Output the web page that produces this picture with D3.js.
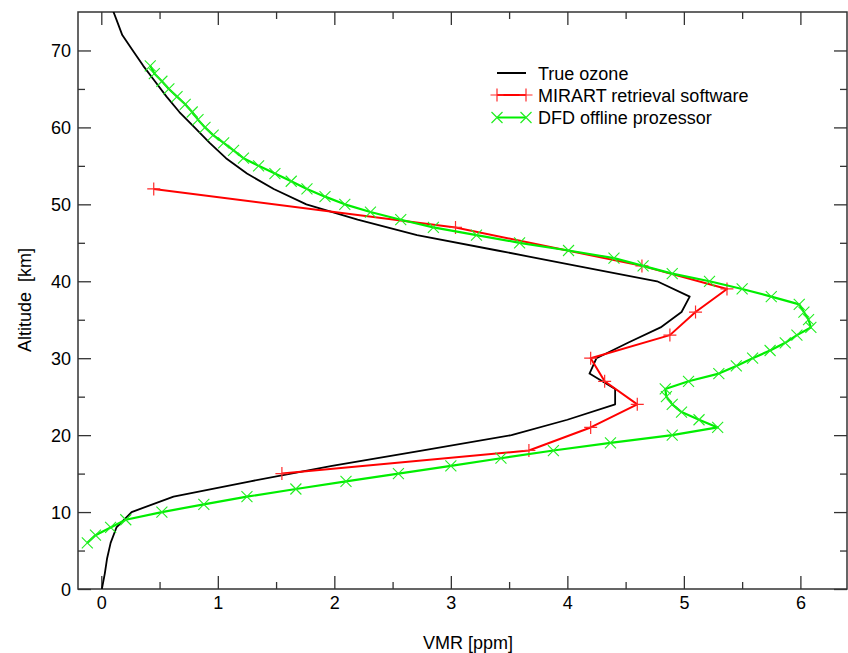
<!DOCTYPE html>
<html>
<head>
<meta charset="utf-8">
<script src="https://cdn.jsdelivr.net/npm/d3@7"></script>
<style>
  html, body { margin: 0; padding: 0; background: #fff; }
  svg { display: block; }
  text { font-family: "Liberation Sans", Arial, Helvetica, sans-serif; fill: #000; }
</style>
</head>
<body>
<svg id="chart" width="848" height="653"></svg>
<script>
// Ozone volume mixing ratio profiles (ppm) against altitude (km)

// True ozone profile
const trueAlt = [0, 2, 4, 6, 8, 10, 12, 14, 16, 18, 20, 22, 24, 26, 28, 30, 32, 34, 36, 38,
                 40, 42, 44, 46, 48, 50, 52, 54, 56, 58, 60, 62, 64, 66, 68, 70, 72, 74, 76];
const trueVmr = [0.005, 0.03, 0.05, 0.08, 0.13, 0.26, 0.62, 1.28, 1.98, 2.75, 3.52, 4.0, 4.41, 4.41, 4.19, 4.25, 4.52, 4.80, 4.98, 5.05,
                 4.77, 4.08, 3.40, 2.71, 2.20, 1.76, 1.48, 1.25, 1.07, 0.93, 0.80, 0.67, 0.56, 0.46, 0.36, 0.27, 0.18, 0.13, 0.08];

// MIRART retrieval software
const mirartAlt = [15, 18, 21, 24, 27, 30, 33, 36, 39, 42, 47, 52];
const mirartVmr = [1.55, 3.67, 4.20, 4.60, 4.32, 4.20, 4.88, 5.10, 5.37, 4.64, 3.04, 0.45];

// DFD offline prozessor
const dfdAlt = [6, 7, 8, 9, 10, 11, 12, 13, 14, 15, 16, 17, 18, 19, 20, 21, 22, 23, 24, 25, 26, 27,
                28, 29, 30, 31, 32, 33, 34, 35, 36, 37, 38, 39, 40, 41, 42, 43, 44, 45, 46, 47,
                48, 49, 50, 51, 52, 53, 54, 55, 56, 57, 58, 59, 60, 61, 62, 63, 64, 65, 66, 67, 68];
const dfdVmr = [-0.12, -0.05, 0.08, 0.21, 0.52, 0.88, 1.25, 1.67, 2.10, 2.55, 3.00, 3.43, 3.88, 4.37, 4.90, 5.29, 5.13, 4.98, 4.90, 4.85, 4.84, 5.04,
                5.30, 5.45, 5.59, 5.74, 5.87, 5.97, 6.09, 6.07, 6.03, 5.99, 5.75, 5.50, 5.22, 4.90, 4.65, 4.40, 4.01, 3.59, 3.22, 2.85,
                2.57, 2.31, 2.09, 1.92, 1.765, 1.63, 1.49, 1.35, 1.22, 1.135, 1.05, 0.96, 0.89, 0.83, 0.78, 0.72, 0.65, 0.58, 0.52, 0.455, 0.42];

// Axis ticks
const xMajorTicks = [0, 1, 2, 3, 4, 5, 6];
const xMinorTicks = [0.5, 1.5, 2.5, 3.5, 4.5, 5.5];
const yMajorTicks = [0, 10, 20, 30, 40, 50, 60, 70];
const yMinorTicks = [5, 15, 25, 35, 45, 55, 65];

const seriesNames = ["True ozone", "MIRART retrieval software", "DFD offline prozessor"];

const svg = d3.select("#chart");
const plotLeft = 78, plotRight = 847, plotTop = 12, plotBottom = 589;

const x = d3.scaleLinear().domain([-0.2, 6.4]).range([plotLeft, plotRight]);
const y = d3.scaleLinear().domain([0, 75]).range([plotBottom, plotTop]);

const frameColor = "#333";
const majorLen = 13, minorLen = 7;

svg.append("defs").append("clipPath").attr("id", "plot-clip")
  .append("rect").attr("x", plotLeft).attr("y", plotTop)
  .attr("width", plotRight - plotLeft).attr("height", plotBottom - plotTop);

// Axes on all four sides with ticks pointing inward
function styleAxis(g) {
  g.select(".domain").remove();
  g.selectAll(".tick line").attr("stroke", frameColor).attr("stroke-width", 1.3);
  g.selectAll(".tick text").attr("font-size", 18).attr("fill", "#000");
}

svg.append("g").attr("transform", `translate(0,${plotBottom})`)
  .call(d3.axisBottom(x).tickValues(xMajorTicks).tickFormat(d3.format("d")).tickSizeInner(-majorLen).tickSizeOuter(0))
  .call(styleAxis)
  .call(g => g.selectAll(".tick text").attr("dy", null).attr("y", 20));
svg.append("g").attr("transform", `translate(0,${plotBottom})`)
  .call(d3.axisBottom(x).tickValues(xMinorTicks).tickFormat("").tickSizeInner(-minorLen).tickSizeOuter(0))
  .call(styleAxis);
svg.append("g").attr("transform", `translate(0,${plotTop})`)
  .call(d3.axisTop(x).tickValues(xMajorTicks).tickFormat("").tickSizeInner(-majorLen).tickSizeOuter(0))
  .call(styleAxis);
svg.append("g").attr("transform", `translate(0,${plotTop})`)
  .call(d3.axisTop(x).tickValues(xMinorTicks).tickFormat("").tickSizeInner(-minorLen).tickSizeOuter(0))
  .call(styleAxis);

svg.append("g").attr("transform", `translate(${plotLeft},0)`)
  .call(d3.axisLeft(y).tickValues(yMajorTicks).tickFormat(d3.format("d")).tickSizeInner(-majorLen).tickSizeOuter(0))
  .call(styleAxis)
  .call(g => g.selectAll(".tick text").attr("x", -7).attr("dy", "0.36em"));
svg.append("g").attr("transform", `translate(${plotLeft},0)`)
  .call(d3.axisLeft(y).tickValues(yMinorTicks).tickFormat("").tickSizeInner(-minorLen).tickSizeOuter(0))
  .call(styleAxis);
svg.append("g").attr("transform", `translate(${plotRight},0)`)
  .call(d3.axisRight(y).tickValues(yMajorTicks).tickFormat("").tickSizeInner(-majorLen).tickSizeOuter(0))
  .call(styleAxis);
svg.append("g").attr("transform", `translate(${plotRight},0)`)
  .call(d3.axisRight(y).tickValues(yMinorTicks).tickFormat("").tickSizeInner(-minorLen).tickSizeOuter(0))
  .call(styleAxis);

// Frame
svg.append("rect").attr("x", plotLeft).attr("y", plotTop)
  .attr("width", plotRight - plotLeft).attr("height", plotBottom - plotTop)
  .attr("fill", "none").attr("stroke", frameColor).attr("stroke-width", 1.5);

// Axis titles
svg.append("text").attr("x", 468).attr("y", 649).attr("text-anchor", "middle").attr("font-size", 18)
  .text("VMR [ppm]");
svg.append("text").attr("transform", `translate(31,300) rotate(-90)`).attr("text-anchor", "middle")
  .attr("font-size", 18).style("white-space", "pre")
  .text("Altitude  [km]");

// Profiles
const plot = svg.append("g").attr("clip-path", "url(#plot-clip)");
const line = d3.line().x(d => x(d[0])).y(d => y(d[1]));
const zip = (vs, as) => vs.map((v, i) => [v, as[i]]);

const trueData = zip(trueVmr, trueAlt);
const mirartData = zip(mirartVmr, mirartAlt);
const dfdData = zip(dfdVmr, dfdAlt);

plot.append("path").datum(trueData).attr("d", line)
  .attr("fill", "none").attr("stroke", "#000").attr("stroke-width", 1.8).attr("stroke-linejoin", "round");

const plusPath = s => `M${-s},0H${s}M0,${-s}V${s}`;
const crossPath = s => `M${-s},${-s}L${s},${s}M${-s},${s}L${s},${-s}`;

plot.append("path").datum(mirartData).attr("d", line)
  .attr("fill", "none").attr("stroke", "#ff0000").attr("stroke-width", 2).attr("stroke-linejoin", "round");
plot.selectAll(".m-red").data(mirartData).join("path").attr("class", "m-red")
  .attr("transform", d => `translate(${x(d[0])},${y(d[1])})`)
  .attr("d", plusPath(6.5)).attr("stroke", "#ff2a2a").attr("stroke-width", 1.2).attr("fill", "none");

plot.append("path").datum(dfdData).attr("d", line)
  .attr("fill", "none").attr("stroke", "#00ee00").attr("stroke-width", 2.2).attr("stroke-linejoin", "round");
plot.selectAll(".m-green").data(dfdData).join("path").attr("class", "m-green")
  .attr("transform", d => `translate(${x(d[0])},${y(d[1])})`)
  .attr("d", crossPath(5.5)).attr("stroke", "#22ee22").attr("stroke-width", 1.1).attr("fill", "none");

// Legend
const legend = svg.append("g");
const rows = [
  { name: seriesNames[0], color: "#000", marker: null, ly: 73, ty: 79.5 },
  { name: seriesNames[1], color: "#ff0000", marker: plusPath(6.5), mcolor: "#ff2a2a", ly: 95, ty: 101.5 },
  { name: seriesNames[2], color: "#00ee00", marker: crossPath(5.5), mcolor: "#22ee22", ly: 117.5, ty: 124 }
];
rows.forEach(r => {
  legend.append("line").attr("x1", 497).attr("x2", 526).attr("y1", r.ly).attr("y2", r.ly)
    .attr("stroke", r.color).attr("stroke-width", 2);
  if (r.marker) {
    [497, 526].forEach(mx => legend.append("path").attr("transform", `translate(${mx},${r.ly})`)
      .attr("d", r.marker).attr("stroke", r.mcolor).attr("stroke-width", 1.2).attr("fill", "none"));
  }
  legend.append("text").attr("x", 538).attr("y", r.ty).attr("font-size", 18).text(r.name);
});
</script>
</body>
</html>
